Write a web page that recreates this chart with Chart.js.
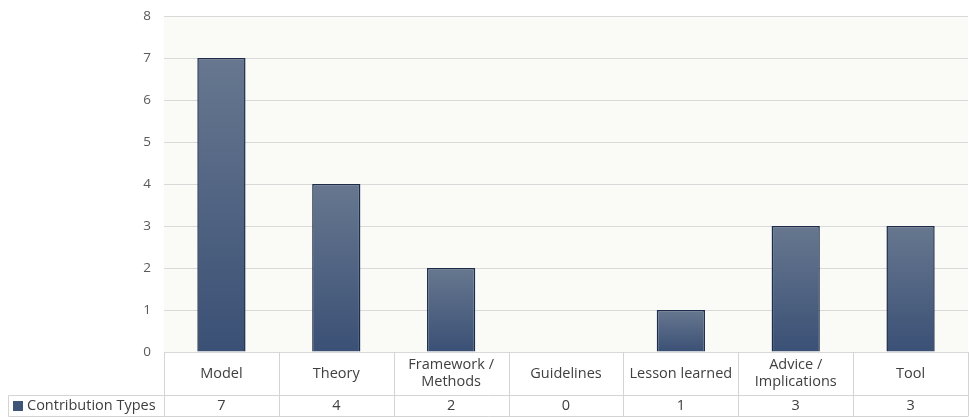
<!DOCTYPE html>
<html>
<head>
<meta charset="utf-8">
<script src="https://cdn.jsdelivr.net/npm/chart.js@4.4.1/dist/chart.umd.min.js"></script>
<style>
html,body{margin:0;padding:0;background:#ffffff;}
#wrap{width:969px;height:418px;position:relative;}
</style>
</head>
<body>
<div id="wrap"><canvas id="c" width="969" height="418"></canvas></div>
<script>
const categories = [["Model"], ["Theory"], ["Framework /", "Methods"], ["Guidelines"], ["Lesson learned"], ["Advice /", "Implications"], ["Tool"]];
const seriesName = "Contribution Types";
const values = [7, 4, 2, 0, 1, 3, 3];
const yTicks = [0, 1, 2, 3, 4, 5, 6, 7, 8];

const FONT = '"Open Sans", "DejaVu Sans", sans-serif';
const TEXT = '#404040';
const LINE = '#d4d4d4';

const plotBg = {
  id: 'plotBg',
  beforeDraw(chart) {
    const {ctx, chartArea: a} = chart;
    ctx.save();
    ctx.fillStyle = '#fafaf7';
    ctx.fillRect(a.left, a.top, a.right - a.left, a.bottom - a.top);
    ctx.restore();
  }
};

const dataTable = {
  id: 'dataTable',
  afterDraw(chart) {
    const {ctx, chartArea: a} = chart;
    const x = chart.scales.x;
    const n = categories.length;
    const step = (a.right - a.left) / n;
    const top = a.bottom, mid = top + 43.5, bot = top + 64.5;
    const leftLabel = 8.5;
    ctx.save();
    ctx.strokeStyle = LINE;
    ctx.lineWidth = 1;
    ctx.beginPath();
    for (let i = 0; i <= n; i++) {
      const px = Math.round(a.left + i * step) + 0.5;
      ctx.moveTo(px, top);
      ctx.lineTo(px, bot);
    }
    ctx.moveTo(leftLabel, mid); ctx.lineTo(a.right, mid);
    ctx.moveTo(leftLabel, bot); ctx.lineTo(a.right, bot);
    ctx.moveTo(leftLabel, mid); ctx.lineTo(leftLabel, bot);
    ctx.stroke();

    ctx.fillStyle = TEXT;
    ctx.font = '14.5px ' + FONT;
    ctx.textAlign = 'center';
    ctx.textBaseline = 'middle';
    for (let i = 0; i < n; i++) {
      const cx = x.getPixelForValue(i);
      const lines = categories[i];
      const cy = (top + mid) / 2;
      const lh = 17;
      lines.forEach((t, j) => {
        ctx.fillText(t, cx, cy + (j - (lines.length - 1) / 2) * lh);
      });
      ctx.fillText(String(values[i]), cx, (mid + bot) / 2);
    }
    ctx.fillStyle = '#3f5479';
    ctx.fillRect(13, (mid + bot) / 2 - 5, 10, 10);
    ctx.fillStyle = TEXT;
    ctx.textAlign = 'left';
    ctx.fillText(seriesName, 27, (mid + bot) / 2);
    ctx.restore();
  }
};

function barGradient(context) {
  const chart = context.chart;
  const y = chart.scales.y;
  if (!y || context.parsed === undefined) return '#4d607f';
  const v = context.parsed.y;
  const top = y.getPixelForValue(v), bottom = y.getPixelForValue(0);
  if (!isFinite(top) || !isFinite(bottom) || top === bottom) return '#4d607f';
  const g = chart.ctx.createLinearGradient(0, top, 0, bottom);
  g.addColorStop(0, '#67778f');
  g.addColorStop(1, '#3a5075');
  return g;
}

new Chart(document.getElementById('c'), {
  type: 'bar',
  data: {
    labels: categories.map(c => c.join(' ')),
    datasets: [{
      label: seriesName,
      data: values,
      backgroundColor: barGradient,
      borderColor: '#1c2c4a',
      borderWidth: 1.5,
      categoryPercentage: 1.0,
      barPercentage: 0.42
    }]
  },
  options: {
    responsive: false,
    animation: false,
    layout: { padding: { top: 16, right: 1, bottom: 66, left: 0 } },
    plugins: { legend: { display: false }, tooltip: { enabled: false } },
    scales: {
      x: {
        display: false
      },
      y: {
        min: 0, max: 8,
        afterFit(scale) { scale.width = 164; scale.paddingTop = 0; scale.paddingBottom = 0; },
        afterBuildTicks(scale) { scale.ticks = yTicks.map(v => ({value: v})); },
        grid: { color: '#d9d9d9', lineWidth: 1, drawTicks: false },
        border: { display: false },
        ticks: { color: '#595959', font: { family: FONT, size: 13.5 }, padding: 13 }
      }
    }
  },
  plugins: [plotBg, dataTable]
});
</script>
</body>
</html>
